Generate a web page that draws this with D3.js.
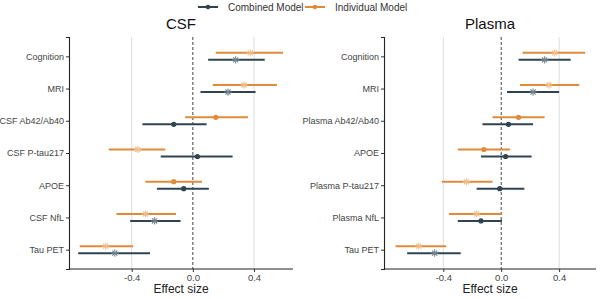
<!DOCTYPE html>
<html>
<head>
<meta charset="utf-8">
<script src="https://cdn.jsdelivr.net/npm/d3@7"></script>
<style>
  body { margin: 0; background: #fff; }
  svg { font-family: "Liberation Sans", Arial, sans-serif; }
</style>
</head>
<body>
<div id="chart"></div>
<script>
// données
const csfLabels = ["Cognition", "MRI", "CSF Ab42/Ab40", "CSF P-tau217", "APOE", "CSF NfL", "Tau PET"];
const csfIndEst = [0.375, 0.335, 0.15, -0.36, -0.125, -0.31, -0.57];
const csfIndLo  = [0.15, 0.13, -0.05, -0.55, -0.31, -0.50, -0.74];
const csfIndHi  = [0.59, 0.55, 0.36, -0.18, 0.06, -0.11, -0.39];
const csfIndSig = [1, 1, 0, 1, 0, 1, 1];
const csfComEst = [0.28, 0.23, -0.125, 0.03, -0.06, -0.25, -0.51];
const csfComLo  = [0.10, 0.05, -0.33, -0.21, -0.235, -0.41, -0.75];
const csfComHi  = [0.47, 0.41, 0.09, 0.26, 0.105, -0.08, -0.28];
const csfComSig = [1, 1, 0, 0, 0, 1, 1];

const plasmaLabels = ["Cognition", "MRI", "Plasma Ab42/Ab40", "APOE", "Plasma P-tau217", "Plasma NfL", "Tau PET"];
const plasmaIndEst = [0.37, 0.33, 0.12, -0.12, -0.24, -0.17, -0.57];
const plasmaIndLo  = [0.148, 0.13, -0.06, -0.30, -0.41, -0.36, -0.73];
const plasmaIndHi  = [0.58, 0.54, 0.30, 0.06, -0.06, 0.005, -0.38];
const plasmaIndSig = [1, 1, 0, 0, 1, 1, 1];
const plasmaComEst = [0.30, 0.22, 0.05, 0.03, -0.01, -0.14, -0.46];
const plasmaComLo  = [0.12, 0.04, -0.13, -0.14, -0.17, -0.30, -0.65];
const plasmaComHi  = [0.48, 0.40, 0.22, 0.21, 0.16, 0.005, -0.28];
const plasmaComSig = [1, 1, 0, 0, 0, 0, 1];

const xTicks = [-0.4, 0, 0.4];

const W = 600, H = 299;
const colInd = "#e08a3a", colCom = "#2f4450";
const colIndLight = "#f0c08e", colComLight = "#74868f";

const svg = d3.select("#chart").append("svg")
    .attr("width", W).attr("height", H);

// légende
const legend = svg.append("g");
const legItems = [
    { label: "Combined Model", color: colCom, x: 198 },
    { label: "Individual Model", color: colInd, x: 305 }
];
legItems.forEach(it => {
    legend.append("line").attr("x1", it.x).attr("x2", it.x + 20)
        .attr("y1", 7).attr("y2", 7).attr("stroke", it.color).attr("stroke-width", 2);
    legend.append("circle").attr("cx", it.x + 10).attr("cy", 7).attr("r", 2.3).attr("fill", it.color);
    legend.append("text").attr("x", it.x + 30).attr("y", 7).attr("dy", "0.35em")
        .style("font-size", "10px").style("fill", "#333").text(it.label);
});

function asterisk(g, cx, cy, color) {
    const r = 3.6;
    const a = g.append("g").attr("transform", `translate(${cx},${cy})`)
        .attr("stroke", color).attr("stroke-width", 1.1);
    [0, 45, 90, 135].forEach(ang => {
        const t = ang * Math.PI / 180;
        a.append("line").attr("x1", -r * Math.cos(t)).attr("y1", -r * Math.sin(t))
            .attr("x2", r * Math.cos(t)).attr("y2", r * Math.sin(t));
    });
}

function drawPanel(p) {
    const top = 37, bottom = 269;
    const x = d3.scaleLinear().domain([-0.81, 0.655]).range([p.left, p.right]);
    const y = d3.scalePoint().domain(p.labels).range([top, bottom]).padding(0.6);
    const g = svg.append("g");

    // grille verticale
    g.selectAll(".grid").data(xTicks.filter(d => d !== 0)).join("line")
        .attr("x1", d => x(d)).attr("x2", d => x(d))
        .attr("y1", top).attr("y2", bottom)
        .attr("stroke", "#dcdcdc").attr("stroke-width", 1);

    // ligne 0 en pointillés
    g.append("line").attr("x1", x(0)).attr("x2", x(0)).attr("y1", top).attr("y2", bottom)
        .attr("stroke", "#444").attr("stroke-width", 1).attr("stroke-dasharray", "3,2");

    // axes
    const yAxis = g.append("g").attr("transform", `translate(${p.left},0)`)
        .call(d3.axisLeft(y).tickSize(3).tickPadding(2));
    yAxis.select(".domain").attr("stroke", "#222").attr("stroke-width", 1.1);
    yAxis.selectAll(".tick line").attr("stroke", "#333");
    yAxis.selectAll("text").style("font-size", "9px").style("fill", "#444")
        .style("font-family", "Liberation Sans, Arial, sans-serif");

    const xAxis = g.append("g").attr("transform", `translate(0,${bottom})`)
        .call(d3.axisBottom(x).tickValues(xTicks).tickSize(3).tickPadding(2)
            .tickFormat(d3.format(".1f")));
    xAxis.select(".domain").attr("stroke", "#222").attr("stroke-width", 1.1)
        .attr("d", `M${p.left},0H${p.right}`);
    xAxis.selectAll(".tick line").attr("stroke", "#333");
    xAxis.selectAll("text").style("font-size", "9.5px").style("fill", "#444")
        .style("font-family", "Liberation Sans, Arial, sans-serif")
        .text(d => d === 0 ? "0.0" : d3.format(".1f")(d).replace("−", "-"));

    svg.append("text").attr("x", (p.left + p.right) / 2).attr("y", 293)
        .attr("text-anchor", "middle").style("font-size", "12px").style("fill", "#222")
        .text("Effect size");
    svg.append("text").attr("x", (p.left + p.right) / 2).attr("y", 29)
        .attr("text-anchor", "middle").style("font-size", "15px").style("fill", "#111")
        .text(p.title);

    // séries
    const series = [
        { est: p.indEst, lo: p.indLo, hi: p.indHi, sig: p.indSig, col: colInd, light: colIndLight, dy: -3.5 },
        { est: p.comEst, lo: p.comLo, hi: p.comHi, sig: p.comSig, col: colCom, light: colComLight, dy: 3.5 }
    ];
    series.forEach(s => {
        const rows = p.labels.map((lab, i) => ({ lab, est: s.est[i], lo: s.lo[i], hi: s.hi[i], sig: s.sig[i] }));
        g.selectAll(null).data(rows).join("line")
            .attr("x1", d => x(d.lo)).attr("x2", d => x(d.hi))
            .attr("y1", d => y(d.lab) + s.dy).attr("y2", d => y(d.lab) + s.dy)
            .attr("stroke", s.col).attr("stroke-width", 2);
        rows.forEach(d => {
            if (d.sig) {
                asterisk(g, x(d.est), y(d.lab) + s.dy, s.light);
            } else {
                g.append("circle").attr("cx", x(d.est)).attr("cy", y(d.lab) + s.dy)
                    .attr("r", 2.6).attr("fill", s.col);
            }
        });
    });
}

drawPanel({ title: "CSF", left: 69, right: 293, labels: csfLabels,
    indEst: csfIndEst, indLo: csfIndLo, indHi: csfIndHi, indSig: csfIndSig,
    comEst: csfComEst, comLo: csfComLo, comHi: csfComHi, comSig: csfComSig });
drawPanel({ title: "Plasma", left: 384, right: 596, labels: plasmaLabels,
    indEst: plasmaIndEst, indLo: plasmaIndLo, indHi: plasmaIndHi, indSig: plasmaIndSig,
    comEst: plasmaComEst, comLo: plasmaComLo, comHi: plasmaComHi, comSig: plasmaComSig });
</script>
</body>
</html>
